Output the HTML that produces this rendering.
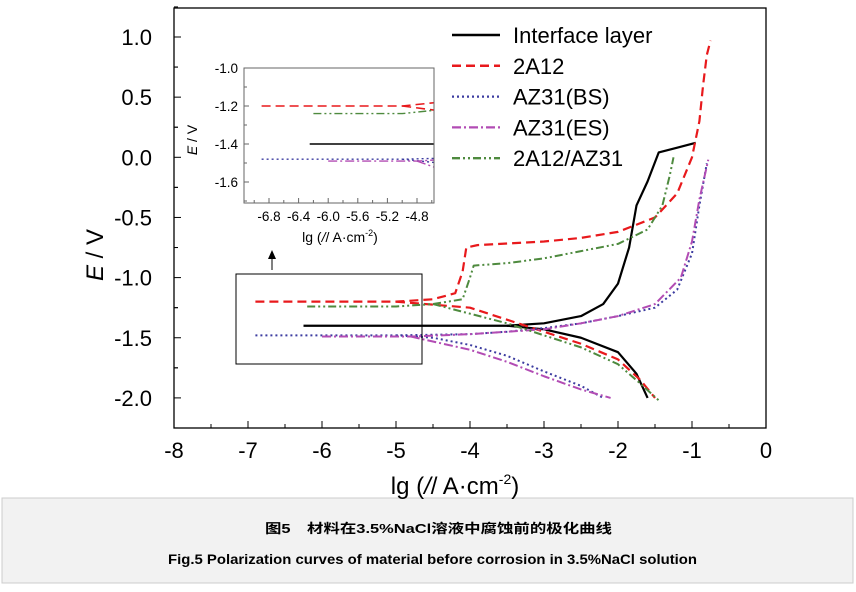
<!DOCTYPE html>
<html><head><meta charset="utf-8"><style>
body{margin:0;background:#fff;width:856px;height:587px;overflow:hidden;font-family:"Liberation Sans",sans-serif}
</style></head><body>
<svg id="chart" width="856" height="587" xmlns="http://www.w3.org/2000/svg" font-family="Liberation Sans, sans-serif">
<rect x="2" y="498" width="851" height="85" fill="#f2f2f2" stroke="#ccc"/>
<text x="265" y="533" font-size="13" font-weight="bold" textLength="347" lengthAdjust="spacingAndGlyphs" font-family="Liberation Sans, Noto Sans CJK SC, sans-serif">图5　材料在3.5%NaCl溶液中腐蚀前的极化曲线</text>
<text x="168" y="564" font-size="14" font-weight="bold" textLength="529" lengthAdjust="spacingAndGlyphs">Fig.5   Polarization curves of material before corrosion in 3.5%NaCl solution</text>
<g id="main"></g>
<g id="inset"></g>
</svg>
<script>
const xTicks=[-8,-7,-6,-5,-4,-3,-2,-1,0];
const yTicks=[1.0,0.5,0.0,-0.5,-1.0,-1.5,-2.0];
const yTickLabels=["1.0","0.5","0.0","-0.5","-1.0","-1.5","-2.0"];
const insetXTicks=[-6.8,-6.4,-6.0,-5.6,-5.2,-4.8];
const insetYTicks=[-1.0,-1.2,-1.4,-1.6];
const seriesNames=["Interface layer","2A12","AZ31(BS)","AZ31(ES)","2A12/AZ31"];
const interfaceX=[-6.25,-3.5,-3,-2.5,-2.2,-2.0,-1.85,-1.75,-1.6,-1.45,-1.2,-0.95];
const interfaceY=[-1.40,-1.40,-1.38,-1.32,-1.22,-1.05,-0.75,-0.4,-0.2,0.04,0.08,0.12];
const interfaceCX=[-3.5,-3,-2.5,-2,-1.75,-1.6];
const interfaceCY=[-1.40,-1.43,-1.5,-1.62,-1.8,-2.0];
const a2a12X=[-6.9,-5,-4.5,-4.2,-4.1,-4.05,-3.9,-3,-2.5,-2,-1.5,-1.2,-1.0,-0.9,-0.85,-0.8,-0.75];
const a2a12Y=[-1.2,-1.2,-1.18,-1.13,-0.95,-0.75,-0.73,-0.7,-0.67,-0.62,-0.5,-0.3,0.0,0.3,0.6,0.85,0.97];
const c2a12X=[-5,-4,-3.5,-3,-2.5,-2,-1.7,-1.5];
const c2a12Y=[-1.2,-1.25,-1.35,-1.45,-1.55,-1.68,-1.85,-2.0];
const bsX=[-6.9,-5,-4,-3.5,-3,-2.5,-2,-1.5,-1.2,-1.0,-0.9,-0.8];
const bsY=[-1.48,-1.48,-1.47,-1.45,-1.42,-1.38,-1.32,-1.25,-1.1,-0.8,-0.4,-0.05];
const bsCX=[-5,-4.5,-4,-3.5,-3,-2.5,-2.2];
const bsCY=[-1.48,-1.5,-1.56,-1.65,-1.78,-1.9,-2.0];
const esX=[-6.0,-4.8,-4,-3,-2.5,-2,-1.5,-1.15,-1.0,-0.9,-0.78];
const esY=[-1.49,-1.49,-1.47,-1.43,-1.38,-1.32,-1.22,-1.0,-0.7,-0.35,-0.02];
const esCX=[-4.8,-4,-3.5,-3,-2.5,-2.1];
const esCY=[-1.49,-1.6,-1.7,-1.82,-1.93,-2.0];
const mixX=[-6.2,-5,-4.5,-4.1,-4.0,-3.95,-3.5,-3,-2.5,-2,-1.6,-1.4,-1.3,-1.25];
const mixY=[-1.24,-1.24,-1.22,-1.18,-1.0,-0.9,-0.88,-0.84,-0.78,-0.72,-0.6,-0.4,-0.15,0.0];
const mixCX=[-4.5,-4,-3.5,-3,-2.5,-2,-1.7,-1.45];
const mixCY=[-1.22,-1.3,-1.38,-1.48,-1.58,-1.72,-1.88,-2.02];

const NS="http://www.w3.org/2000/svg";
function mk(tag,parent,attrs){const e=document.createElementNS(NS,tag);for(const k in attrs)e.setAttribute(k,attrs[k]);parent.appendChild(e);return e;}
const styles=[
 {stroke:"#000",dash:"none",w:2.2},
 {stroke:"#e8191c",dash:"9,5",w:2.2},
 {stroke:"#3c3ca0",dash:"2,3",w:2},
 {stroke:"#b24cb4",dash:"9,3,2,3",w:2},
 {stroke:"#4e8a3e",dash:"8,3,2,3,2,3",w:2}
];
const seriesData=[[interfaceX,interfaceY,interfaceCX,interfaceCY],[a2a12X,a2a12Y,c2a12X,c2a12Y],[bsX,bsY,bsCX,bsCY],[esX,esY,esCX,esCY],[mixX,mixY,mixCX,mixCY]];
function drawSeries(g,sx,sy,scale){
 seriesData.forEach((d,i)=>{
  for(let b=0;b<2;b++){
   const xs=d[b*2],ys=d[b*2+1];
   const p=mk("polyline",g,{points:xs.map((x,j)=>sx(x)+","+sy(ys[j])).join(" "),fill:"none",stroke:styles[i].stroke,"stroke-width":styles[i].w*scale,"stroke-dasharray":styles[i].dash,"stroke-linejoin":"round"});
   
   
  }
 });
}
// main
const L=174,R=766,T=8,B=428;
const sx=x=>L+(x+8)*74, sy=y=>37+(1.0-y)*120.3;
const main=document.getElementById("main");
let cp=mk("clipPath",main,{id:"cm"});mk("rect",cp,{x:L,y:T,width:R-L,height:B-T});
const sg=mk("g",main,{"clip-path":"url(#cm)"});
drawSeries(sg,sx,sy,1);
let fr=mk("rect",main,{x:L,y:T,width:R-L,height:B-T,fill:"none",stroke:"#000","stroke-width":1.3});

xTicks.forEach((t,i)=>{
 mk("line",main,{x1:sx(t),x2:sx(t),y1:B,y2:B-7,stroke:"#000"});
 if(i<xTicks.length-1)mk("line",main,{x1:sx(t+0.5),x2:sx(t+0.5),y1:B,y2:B-4,stroke:"#000"});
 const tx=mk("text",main,{x:sx(t),y:B+30,"font-size":22,"text-anchor":"middle"});tx.textContent=t;
 
});
yTicks.forEach((t,i)=>{
 mk("line",main,{x1:L,x2:L+7,y1:sy(t),y2:sy(t),stroke:"#000"});
 mk("line",main,{x1:L,x2:L+4,y1:sy(t-0.25),y2:sy(t-0.25),stroke:"#000"});
 mk("line",main,{x1:L,x2:L+4,y1:sy(t+0.25),y2:sy(t+0.25),stroke:"#000"});
 const tx=mk("text",main,{x:L-22,y:sy(t)+8,"font-size":22,"text-anchor":"end"});tx.textContent=yTickLabels[i];
 
});
let yt=mk("text",main,{x:0,y:0,"font-size":24,"text-anchor":"middle",transform:"translate(103,255) rotate(-90)"});
yt.innerHTML='<tspan font-style="italic">E</tspan> / V';

let xt=mk("text",main,{x:455,y:494,"font-size":24,"text-anchor":"middle"});
xt.innerHTML='lg (<tspan font-style="italic">/</tspan>/ A·cm<tspan font-size="14" dy="-10">-2</tspan><tspan dy="10">)</tspan>';

let zb=mk("rect",main,{x:236,y:274,width:186,height:90,fill:"none",stroke:"#000","stroke-width":1});

mk("line",main,{x1:272,x2:272,y1:270,y2:258,stroke:"#000"});
mk("polygon",main,{points:"268,259 276,259 272,250",fill:"#000"});
// legend
seriesNames.forEach((n,i)=>{
 const y=35+i*30.8;
 const lg=mk("g",main,{});
 
 mk("line",lg,{x1:452,x2:500,y1:y,y2:y,stroke:styles[i].stroke,"stroke-width":styles[i].w+0.3,"stroke-dasharray":styles[i].dash});
 const t=mk("text",lg,{x:513,y:y+8,"font-size":22});t.textContent=n;
});
// inset
const iL=244,iR=434,iT=68,iB=203;
const ix=x=>269+(x+6.8)*74, iy=y=>68+(-1.0-y)*190;
const inset=document.getElementById("inset");
cp=mk("clipPath",inset,{id:"ci"});mk("rect",cp,{x:iL,y:iT,width:iR-iL,height:iB-iT});
const ig=mk("g",inset,{"clip-path":"url(#ci)"});
drawSeries(ig,ix,iy,0.7);
fr=mk("rect",inset,{x:iL,y:iT,width:iR-iL,height:iB-iT,fill:"none",stroke:"#666","stroke-width":1});

insetXTicks.forEach(t=>{
 mk("line",inset,{x1:ix(t),x2:ix(t),y1:iB,y2:iB-5,stroke:"#666"});
 mk("line",inset,{x1:ix(t+0.2),x2:ix(t+0.2),y1:iB,y2:iB-3,stroke:"#666"});
 const tx=mk("text",inset,{x:ix(t),y:iB+18,"font-size":13.5,"text-anchor":"middle"});tx.textContent=t.toFixed(1);
 
});
mk("line",inset,{x1:ix(-7.0),x2:ix(-7.0),y1:iB,y2:iB-3,stroke:"#666"});
insetYTicks.forEach(t=>{
 mk("line",inset,{x1:iL,x2:iL+5,y1:iy(t),y2:iy(t),stroke:"#666"});
 mk("line",inset,{x1:iL,x2:iL+3,y1:iy(t-0.1),y2:iy(t-0.1),stroke:"#666"});
 const tx=mk("text",inset,{x:iL-6,y:iy(t)+5,"font-size":13.5,"text-anchor":"end"});tx.textContent=t.toFixed(1);
 
});
let it=mk("text",inset,{x:0,y:0,"font-size":14,"text-anchor":"middle",transform:"translate(197,140) rotate(-90)"});
it.innerHTML='<tspan font-style="italic">E</tspan> / V';

let ixt=mk("text",inset,{x:340,y:242,"font-size":14,"text-anchor":"middle"});
ixt.innerHTML='lg (<tspan font-style="italic">/</tspan>/ A·cm<tspan font-size="9" dy="-6">-2</tspan><tspan dy="6">)</tspan>';

</script>
</body></html>
